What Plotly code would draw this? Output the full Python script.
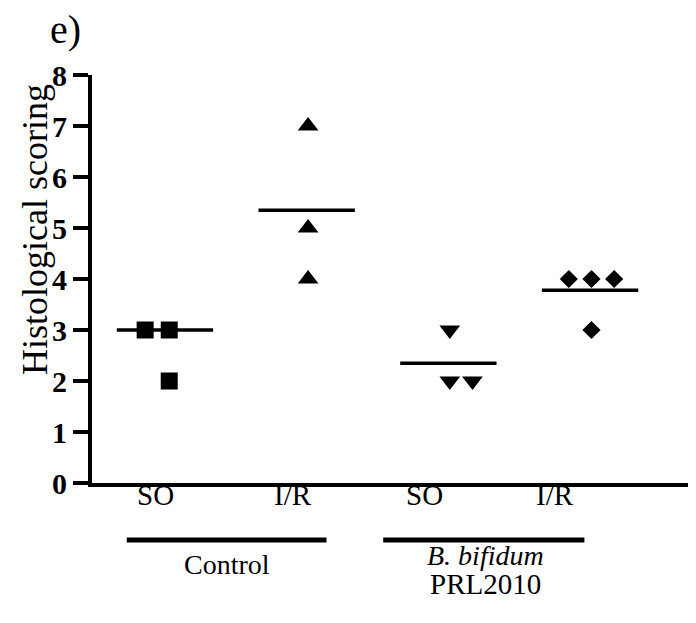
import plotly.graph_objects as go

# ---- data ----
groups = ["Control SO", "Control I/R", "B. bifidum SO", "B. bifidum I/R"]
so_control = [3, 3, 2]
ir_control = [7, 5, 4]
so_bifidum = [3, 2, 2]
ir_bifidum = [4, 4, 4, 3]
group_lines = [3.0, 5.35, 2.35, 3.78]
sub_labels = ["SO", "I/R", "SO", "I/R"]
y_ticks = [0, 1, 2, 3, 4, 5, 6, 7, 8]

# horizontal scatter offsets of the points (layout only)
offsets = [
    [-0.14, 0.03, 0.03],
    [0.01, 0.01, 0.01],
    [0.01, 0.01, 0.17],
    [-0.15, 0.01, 0.17, 0.01],
]
symbols = ["square", "triangle-up", "triangle-down", "diamond"]
sizes = [17, 18, 18, 14]
series = [so_control, ir_control, so_bifidum, ir_bifidum]

FONT = "Liberation Serif"
W, H = 696, 607
L, R, T = 84, 0, 67
PH = 408
B = H - T - PH
PW = W - L - R
XR = [0.485, 0.485 + PW / 141.7]


def px_x(page_x):
    return (page_x - 8 - L) / PW


def px_y(page_y):
    return (H - B - (page_y - 8)) / PH


fig = go.Figure()

for i, vals in enumerate(series):
    xs = [i + 1 + o for o in offsets[i]]
    fig.add_trace(go.Scatter(
        x=xs, y=vals, mode="markers",
        marker=dict(symbol=symbols[i], size=sizes[i], color="black",
                    line=dict(width=0)),
        showlegend=False, cliponaxis=False))
    fig.add_trace(go.Scatter(
        x=[i + 1 - 0.34, i + 1 + 0.34], y=[group_lines[i]] * 2,
        mode="lines", line=dict(color="black", width=3.5),
        showlegend=False))

fig.update_layout(
    width=W, height=H,
    margin=dict(l=L, r=R, t=T, b=B, autoexpand=False),
    paper_bgcolor="white", plot_bgcolor="white",
    font=dict(family=FONT, color="black"),
    xaxis=dict(range=XR, showgrid=False, zeroline=False,
               showticklabels=False, ticks="", showline=True,
               linecolor="black", linewidth=4, automargin=False),
    yaxis=dict(range=[0, 8], tickvals=y_ticks, showgrid=False, zeroline=False,
               showline=True, linecolor="black", linewidth=4,
               ticks="outside", ticklen=15, tickwidth=4, tickcolor="black",
               automargin=False,
               tickfont=dict(family=FONT, size=30, weight="bold", color="black")),
)

ann = []
sub_x = [0.93, 1.90, 2.83, 3.75]
for lbl, xv in zip(sub_labels, sub_x):
    ann.append(dict(x=xv, y=px_y(513), xref="x", yref="paper", text=lbl,
                    showarrow=False, font=dict(size=29, family=FONT)))
ann.append(dict(x=1.44, y=px_y(582), xref="x", yref="paper", text="Control",
                showarrow=False, font=dict(size=28, family=FONT)))
ann.append(dict(x=3.26, y=px_y(573), xref="x", yref="paper", text="<i>B. bifidum</i>",
                showarrow=False, font=dict(size=28, family=FONT)))
ann.append(dict(x=3.26, y=px_y(602), xref="x", yref="paper", text="PRL2010",
                showarrow=False, font=dict(size=29, family=FONT)))
ann.append(dict(x=px_x(35), y=px_y(230), xref="paper", yref="paper",
                xanchor="center", yanchor="middle",
                text="Histological scoring", textangle=-90, showarrow=False,
                font=dict(size=36, family=FONT)))
ann.append(dict(x=px_x(48), y=px_y(30), xref="paper", yref="paper", text="e)",
                xanchor="left", yanchor="middle", showarrow=False,
                font=dict(size=40, family=FONT)))
fig.update_layout(annotations=ann)

shapes = []
for x0, x1 in [(0.73, 2.14), (2.54, 3.96)]:
    shapes.append(dict(type="line", xref="x", yref="paper", x0=x0, x1=x1,
                       y0=px_y(540), y1=px_y(540), line=dict(color="black", width=5)))
fig.update_layout(shapes=shapes)

fig.write_html("out.html")
